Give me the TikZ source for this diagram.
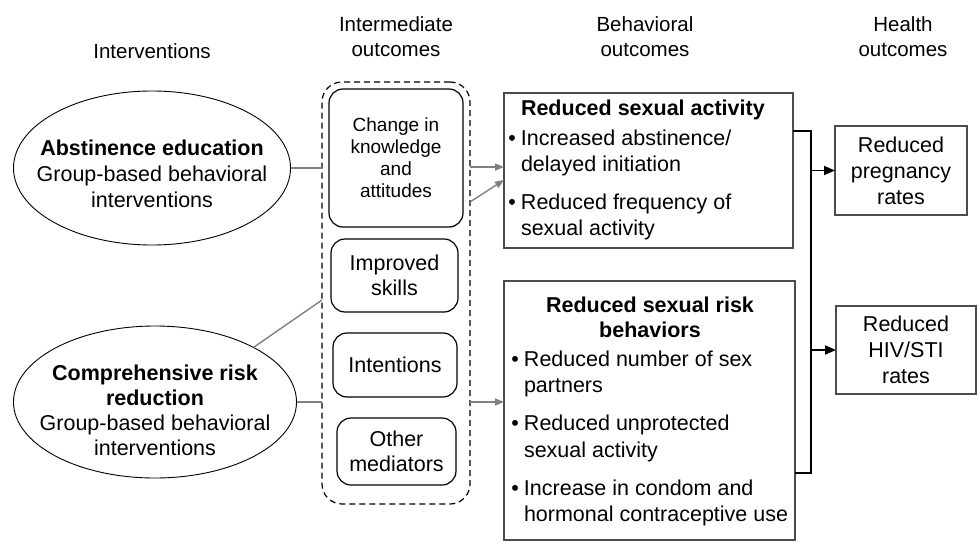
\documentclass[tikz,border=0pt]{standalone}
\usepackage{fontspec}
\setmainfont{Liberation Sans}
\usetikzlibrary{shapes.geometric,arrows.meta}
\begin{document}
\begin{tikzpicture}[x=1pt,y=-1pt,
  every node/.style={inner sep=0pt, outer sep=0pt},
  hdr/.style={align=center, font=\fontsize{20.5}{25}\selectfont},
  txt/.style={align=center, font=\fontsize{21.5}{26}\selectfont},
  oval/.style={draw, ellipse, line width=0.9pt},
  medbox/.style={draw, rounded corners=14pt, line width=1.2pt},
  outbox/.style={draw=black!70, line width=1.1pt},
  grayline/.style={draw=black!50, line width=1.4pt},
  grayarrow/.style={grayline, -{Triangle[length=9pt,width=7pt]}},
  bracket/.style={draw=black, line width=1.8pt},
  blackarrow/.style={bracket, -{Triangle[length=11pt,width=9pt]}}
]
\useasboundingbox (0,0) rectangle (980,554);

% headers
\node[hdr] (h1) at (152,51) {Interventions};
\node[hdr] (h2) at (396,36.5) {Intermediate\\outcomes};
\node[hdr] (h3) at (645,36.5) {Behavioral\\outcomes};
\node[hdr] (h4) at (903,36.5) {Health\\outcomes};

% interventions
\node[oval, minimum width=277pt, minimum height=154pt] (e1) at (152,168) {};
\node[txt] (e1t) at (152,174) {\textbf{Abstinence education}\\Group-based behavioral\\interventions};
\node[oval, minimum width=283pt, minimum height=152pt] (e2) at (155,402) {};
\node[txt, font=\fontsize{21.5}{25}\selectfont] (e2t) at (155,410) {\textbf{Comprehensive risk}\\\textbf{reduction}\\Group-based behavioral\\interventions};

% intermediate outcomes
\node[draw, dashed, dash pattern=on 6pt off 4pt, rounded corners=20pt, line width=1.2pt,
      minimum width=148pt, minimum height=422pt] (med) at (396,293) {};
\node[medbox, minimum width=134pt, minimum height=138pt, align=center,
      font=\fontsize{19}{22}\selectfont] (c1) at (396,158) {Change in\\knowledge\\and\\attitudes};
\node[medbox, txt, font=\fontsize{21.5}{25}\selectfont, minimum width=127pt, minimum height=73pt] (c2) at (394.5,275.5) {Improved\\skills};
\node[medbox, txt, minimum width=124pt, minimum height=64pt] (c3) at (395,365) {Intentions};
\node[medbox, txt, font=\fontsize{21.5}{25}\selectfont, minimum width=119pt, minimum height=67pt] (c4) at (396.5,451.5) {Other\\mediators};

% behavioral outcomes
\node[outbox, minimum width=289pt, minimum height=155pt] (b1) at (648.5,170.5) {};
\node[anchor=west, font=\bfseries\fontsize{21.5}{26}\selectfont] (b1t) at (521,110) {Reduced sexual activity};
\node[anchor=west, align=left, font=\fontsize{21.5}{26}\selectfont] (b1l) at (521,184.5)
  {\llap{•\hspace{5pt}}Increased abstinence/\\delayed initiation\\[12pt]\llap{•\hspace{5pt}}Reduced frequency of\\sexual activity};

\node[outbox, minimum width=291pt, minimum height=259pt] (b2) at (649.5,410.5) {};
\node[align=center, font=\bfseries\fontsize{21.5}{25}\selectfont] (b2t) at (650,317.5) {Reduced sexual risk\\behaviors};
\node[anchor=west, align=left, font=\fontsize{21.5}{26.5}\selectfont] (b2l) at (524,438.5)
  {\llap{•\hspace{5pt}}Reduced number of sex\\partners\\[11.5pt]\llap{•\hspace{5pt}}Reduced unprotected\\sexual activity\\[11.5pt]\llap{•\hspace{5pt}}Increase in condom and\\hormonal contraceptive use};

% health outcomes
\node[outbox, txt, minimum width=132pt, minimum height=89pt] (p1) at (901,170.5) {Reduced\\pregnancy\\rates};
\node[outbox, txt, minimum width=140pt, minimum height=88pt] (p2) at (906,350) {Reduced\\HIV/STI\\rates};

% bracket and black arrows
\coordinate (bt) at (811,131);
\coordinate (bb) at (811,473);
\draw[bracket] (b1.east |- bt) -- (bt) -- (bb) -- (b2.east |- bb);
\draw[blackarrow] (bt |- p1.west) -- (p1.west);
\draw[blackarrow] (bt |- p2.west) -- (p2.west);

% gray connectors
\coordinate (y300) at (0,300);
\coordinate (ya) at (0,167);
\coordinate (yb) at (0,202);
\coordinate (yc) at (0,180);
\draw[grayline] (e1.east) -- (med.west |- e1.east);
\draw[grayline] (e2.29) -- (med.west |- y300);
\draw[grayline] (e2.east) -- (med.west |- e2.east);
\draw[grayarrow] (med.east |- ya) -- (b1.west |- ya);
\draw[grayarrow] (med.east |- yb) -- (b1.west |- yc);
\draw[grayarrow] (med.east |- e2.east) -- (b2.west |- e2.east);
\end{tikzpicture}
\end{document}
